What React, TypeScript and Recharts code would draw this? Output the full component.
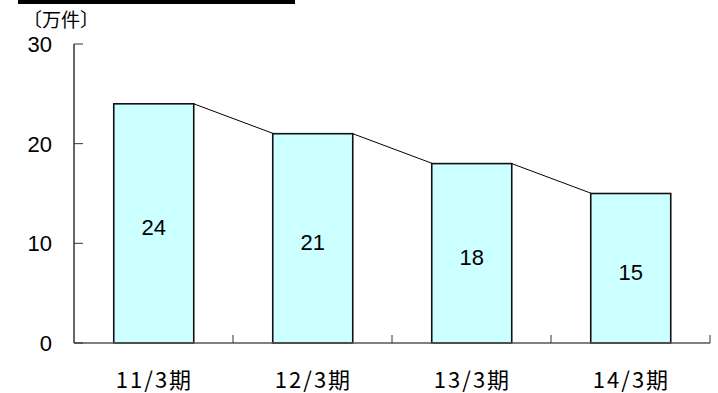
import React from 'react';
import { ComposedChart, Bar, XAxis, YAxis, LabelList } from 'recharts';

// 期別の件数（万件）
const periods = ['11/3期', '12/3期', '13/3期', '14/3期'];
const counts = [24, 21, 18, 15];
const yTicks = [0, 10, 20, 30];

const data = periods.map((period, i) => ({ period, count: counts[i] }));

const JP_FONT = '"Noto Sans CJK JP", "Noto Sans", sans-serif';
const NUM_FONT = '"Liberation Sans", Arial, sans-serif';

// Y軸の目盛り：内向きの短い線＋左側の数値
const YTick = (props: any) => {
  const { x, y, payload } = props;
  return (
    <g>
      <line x1={x} y1={y} x2={x + 9} y2={y} stroke="#333" strokeWidth={1} />
      <text x={x - 22} y={y} dy={8} textAnchor="end" fontSize={22} fontFamily={NUM_FONT} fill="#000">
        {payload.value}
      </text>
    </g>
  );
};

// X軸の目盛り：カテゴリ境界に内向きの線
const XTick = (props: any) => {
  const { x, y, payload, width, visibleTicksCount } = props;
  const half = (width ?? 636) / (visibleTicksCount || periods.length) / 2;
  return (
    <g>
      <line x1={x + half} y1={y} x2={x + half} y2={y - 8} stroke="#333" strokeWidth={1} />
      <text
        x={x + 1}
        y={y}
        dy={45}
        textAnchor="middle"
        fontSize={22}
        letterSpacing={2}
        fontFamily={JP_FONT}
        fill="#000"
      >
        {payload.value}
      </text>
    </g>
  );
};

// 棒＋次の棒の上端への折れ線
const BarWithConnector = (props: any) => {
  const { x, y, width, height, index, fill } = props;
  const bottom = y + height;
  const next = counts[index + 1];
  let connector = null;
  if (next !== undefined) {
    const perUnit = height / counts[index];
    const nx = x + width * 2;
    const ny = bottom - next * perUnit;
    connector = <line x1={x + width} y1={y} x2={nx} y2={ny} stroke="#000" strokeWidth={1} />;
  }
  return (
    <g>
      <rect x={x} y={y} width={width} height={height} fill={fill} stroke="#111" strokeWidth={1.6} />
      {connector}
    </g>
  );
};

export default function App() {
  return (
    <div style={{ position: 'absolute', left: 0, top: 0, width: 718, height: 393, background: '#fff' }}>
      <div style={{ position: 'absolute', left: 18, top: 0, width: 277, height: 4, background: '#000' }} />
      <div
        style={{
          position: 'absolute',
          left: 23,
          top: 9,
          fontSize: 19,
          fontFamily: JP_FONT,
          color: '#000',
          lineHeight: '19px',
        }}
      >
        〔万件〕
      </div>
      <ComposedChart
        width={718}
        height={393}
        data={data}
        margin={{ top: 44, right: 8, left: 0, bottom: 0 }}
        barCategoryGap="25%"
      >
        <XAxis
          dataKey="period"
          height={50}
          axisLine={{ stroke: '#555', strokeWidth: 1.5 }}
          tickLine={false}
          tickSize={0}
          tickMargin={0}
          tick={<XTick />}
          interval={0}
        />
        <YAxis
          width={74}
          domain={[0, 30]}
          ticks={yTicks}
          axisLine={{ stroke: '#333', strokeWidth: 1.5 }}
          tickLine={false}
          tickSize={0}
          tickMargin={0}
          tick={<YTick />}
        />
        <Bar dataKey="count" fill="#ccffff" shape={<BarWithConnector />} isAnimationActive={false}>
          <LabelList
            dataKey="count"
            position="center"
            fontSize={22}
            fontFamily={NUM_FONT}
            fill="#000"
            dy={4}
          />
        </Bar>
      </ComposedChart>
    </div>
  );
}
